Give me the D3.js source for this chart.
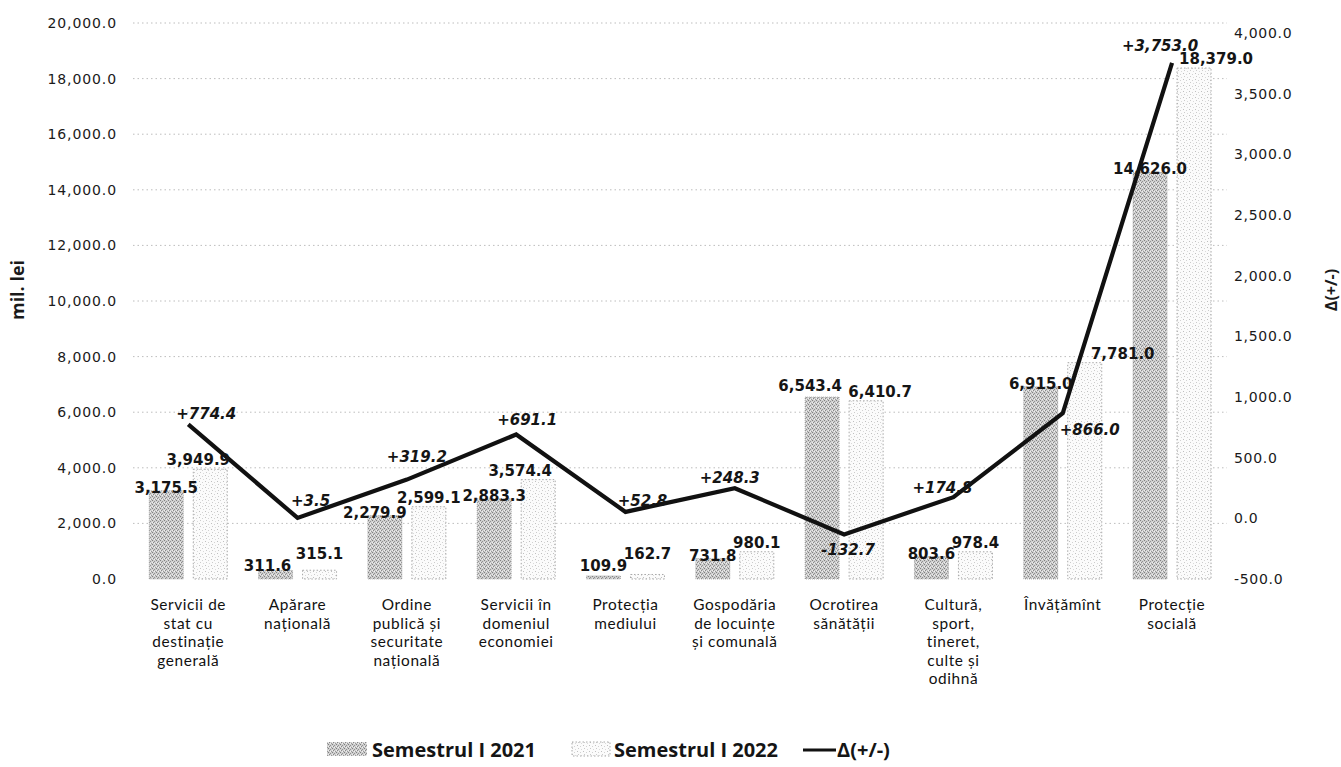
<!DOCTYPE html>
<html>
<head>
<meta charset="utf-8">
<script src="https://cdn.jsdelivr.net/npm/d3@7"></script>
<style>
  html, body { margin: 0; padding: 0; background: #fff; }
  svg { display: block; }
</style>
</head>
<body>
<svg id="chart" width="1341" height="767"></svg>
<script>
// ---------------- DATA ----------------
const categories = [
  ["Servicii de", "stat cu", "destinație", "generală"],
  ["Apărare", "națională"],
  ["Ordine", "publică și", "securitate", "națională"],
  ["Servicii în", "domeniul", "economiei"],
  ["Protecția", "mediului"],
  ["Gospodăria", "de locuințe", "și comunală"],
  ["Ocrotirea", "sănătății"],
  ["Cultură,", "sport,", "tineret,", "culte și", "odihnă"],
  ["Învățămînt"],
  ["Protecție", "socială"]
];
const sem2021 = [3175.5, 311.6, 2279.9, 2883.3, 109.9, 731.8, 6543.4, 803.6, 6915.0, 14626.0];
const sem2022 = [3949.9, 315.1, 2599.1, 3574.4, 162.7, 980.1, 6410.7, 978.4, 7781.0, 18379.0];
const delta   = [774.4, 3.5, 319.2, 691.1, 52.8, 248.3, -132.7, 174.8, 866.0, 3753.0];
const leftTicks  = [0, 2000, 4000, 6000, 8000, 10000, 12000, 14000, 16000, 18000, 20000];
const rightTicks = [-500, 0, 500, 1000, 1500, 2000, 2500, 3000, 3500, 4000];
const seriesNames = ["Semestrul I 2021", "Semestrul I 2022", "Δ(+/-)"];
const leftTitle = "mil. lei";
const rightTitle = "Δ(+/-)";

// ---------------- LAYOUT ----------------
const svg = d3.select("#chart");
const keys = categories.map((c, i) => i);
const x = d3.scaleBand().domain(keys).range([133.6, 1226.7]);
const yL = d3.scaleLinear().domain([0, 20000]).range([579, 23]);
const yR = d3.scaleLinear().domain([-500, 4000]).range([579, 33]);
const barW = 34, barOff = 22;
const cx = i => x(i) + x.bandwidth() / 2;
const fmt0 = d3.format(",.1f");
const fmt = v => fmt0(v).replace("−", "-");
const fmtD = v => (v > 0 ? "+" : "") + fmt(v);

// patterns
const defs = svg.append("defs");
const p1 = defs.append("pattern").attr("id", "p2021").attr("patternUnits", "userSpaceOnUse")
  .attr("width", 4).attr("height", 4);
p1.append("rect").attr("width", 4).attr("height", 4).attr("fill", "#cfcfcf");
[[0,0,"#808080"],[2,1,"#929292"],[1,2,"#888888"],[3,3,"#9a9a9a"],[2,3,"#f0f0f0"],[0,2,"#eeeeee"]].forEach(([a,b,c]) =>
  p1.append("rect").attr("x", a).attr("y", b).attr("width", 1).attr("height", 1).attr("fill", c));
const p2 = defs.append("pattern").attr("id", "p2022").attr("patternUnits", "userSpaceOnUse")
  .attr("width", 6).attr("height", 6);
p2.append("rect").attr("width", 6).attr("height", 6).attr("fill", "#fbfbfb");
[[1,1,"#c0c0c0"],[4,2,"#d2d2d2"],[2,4,"#cbcbcb"],[5,5,"#dadada"]].forEach(([a,b,c]) =>
  p2.append("rect").attr("x", a).attr("y", b).attr("width", 1).attr("height", 1).attr("fill", c));

// gridlines
svg.append("g").selectAll("line").data(leftTicks.filter(t => t > 0)).join("line")
  .attr("x1", 133).attr("x2", 1227)
  .attr("y1", d => yL(d)).attr("y2", d => yL(d))
  .attr("stroke", "#bdbdbd").attr("stroke-width", 1).attr("stroke-dasharray", "1.5,3");

// left axis
const axL = svg.append("g").attr("transform", "translate(121,0)")
  .call(d3.axisLeft(yL).tickValues(leftTicks).tickFormat(fmt).tickSize(0).tickPadding(4));
axL.select(".domain").remove();
axL.selectAll("text").attr("font-family", "DejaVu Sans").attr("font-size", 14)
  .attr("letter-spacing", 0.9).attr("fill", "#1a1a1a");

// right axis
const axR = svg.append("g").attr("transform", "translate(1231,0)")
  .call(d3.axisRight(yR).tickValues(rightTicks).tickFormat(fmt).tickSize(0).tickPadding(3));
axR.select(".domain").remove();
axR.selectAll("text").attr("font-family", "DejaVu Sans").attr("font-size", 14)
  .attr("letter-spacing", 0.7).attr("fill", "#1a1a1a");

// axis titles
svg.append("text").attr("transform", "translate(24,290) rotate(-90)")
  .attr("text-anchor", "middle").attr("font-family", "Open Sans").attr("font-weight", 700)
  .attr("font-size", 18).attr("fill", "#1a1a1a").text(leftTitle);
svg.append("text").attr("transform", "translate(1337,290) rotate(-90)")
  .attr("text-anchor", "middle").attr("font-family", "Open Sans").attr("font-weight", 700)
  .attr("font-size", 16).attr("fill", "#1a1a1a").text(rightTitle);

// bars
svg.append("g").selectAll("rect").data(sem2021).join("rect")
  .attr("x", (d, i) => cx(i) - barOff - barW / 2).attr("width", barW)
  .attr("y", d => yL(d)).attr("height", d => yL(0) - yL(d))
  .attr("fill", "url(#p2021)").attr("stroke", "#9a9a9a").attr("stroke-width", 0.8)
  .attr("stroke-dasharray", "1,1");
svg.append("g").selectAll("rect").data(sem2022).join("rect")
  .attr("x", (d, i) => cx(i) + barOff - barW / 2).attr("width", barW)
  .attr("y", d => yL(d)).attr("height", d => yL(0) - yL(d))
  .attr("fill", "url(#p2022)").attr("stroke", "#a8a8a8").attr("stroke-width", 1)
  .attr("stroke-dasharray", "1.5,2");

// category labels (one text per line)
const catG = svg.append("g");
categories.forEach((lines, i) => {
  lines.forEach((ln, j) => catG.append("text").attr("text-anchor", "middle")
    .attr("font-family", "Lato").attr("font-size", 15.4).attr("letter-spacing", 0.6)
    .attr("fill", "#111").attr("x", cx(i)).attr("y", 610 + j * 18.6).text(ln));
});

// line
const line = d3.line().x((d, i) => cx(i)).y(d => yR(d));
svg.append("path").datum(delta).attr("d", line)
  .attr("fill", "none").attr("stroke", "#111").attr("stroke-width", 4.2)
  .attr("stroke-linejoin", "miter");

// data labels
const lblFont = sel => sel.attr("font-family", "DejaVu Sans").attr("font-weight", 700)
  .attr("font-size", 15).attr("fill", "#151515").attr("text-anchor", "middle");
const nudge2021 = {1: -8, 2: -10, 6: [-12, -8]};
const nudge2022 = {0: -12, 3: -18, 6: 14, 8: 38, 9: 22};
const nx = (n, i) => { const v = n[i]; return v === undefined ? 0 : (Array.isArray(v) ? v[0] : v); };
const ny = (n, i) => { const v = n[i]; return Array.isArray(v) ? v[1] : 0; };
svg.append("g").selectAll("text").data(sem2021).join("text").call(lblFont)
  .attr("x", (d, i) => cx(i) - barOff + nx(nudge2021, i))
  .attr("y", (d, i) => Math.min(yL(d) + 2, yL(0) - 8) + ny(nudge2021, i)).text(fmt);
svg.append("g").selectAll("text").data(sem2022).join("text").call(lblFont)
  .attr("x", (d, i) => cx(i) + barOff + nx(nudge2022, i))
  .attr("y", d => Math.min(yL(d) - 4, yL(0) - 20)).text(fmt);

const dNudge = [[18,-5],[13,-12],[10,-18],[11,-9],[17,-6],[-5,-5],[4,21],[-11,-4],[27,22],[-12,-12]];
svg.append("g").selectAll("text").data(delta).join("text").call(lblFont)
  .attr("font-style", "italic")
  .attr("x", (d, i) => cx(i) + dNudge[i][0])
  .attr("y", (d, i) => yR(d) + dNudge[i][1]).text(fmtD);

// legend
const lg = svg.append("g");
lg.append("rect").attr("x", 327).attr("y", 742).attr("width", 40).attr("height", 14)
  .attr("fill", "url(#p2021)");
lg.append("text").attr("x", 372).attr("y", 757).text(seriesNames[0]);
lg.append("rect").attr("x", 572).attr("y", 742).attr("width", 38).attr("height", 14)
  .attr("fill", "url(#p2022)").attr("stroke", "#aaa").attr("stroke-dasharray", "1.5,2");
lg.append("text").attr("x", 614).attr("y", 757).text(seriesNames[1]);
lg.append("line").attr("x1", 803).attr("x2", 836).attr("y1", 750).attr("y2", 750)
  .attr("stroke", "#111").attr("stroke-width", 3);
lg.append("text").attr("x", 837).attr("y", 757).text(seriesNames[2]);
lg.selectAll("text").attr("font-family", "Open Sans").attr("font-weight", 700)
  .attr("font-size", 20).attr("fill", "#151515");
</script>
</body>
</html>
